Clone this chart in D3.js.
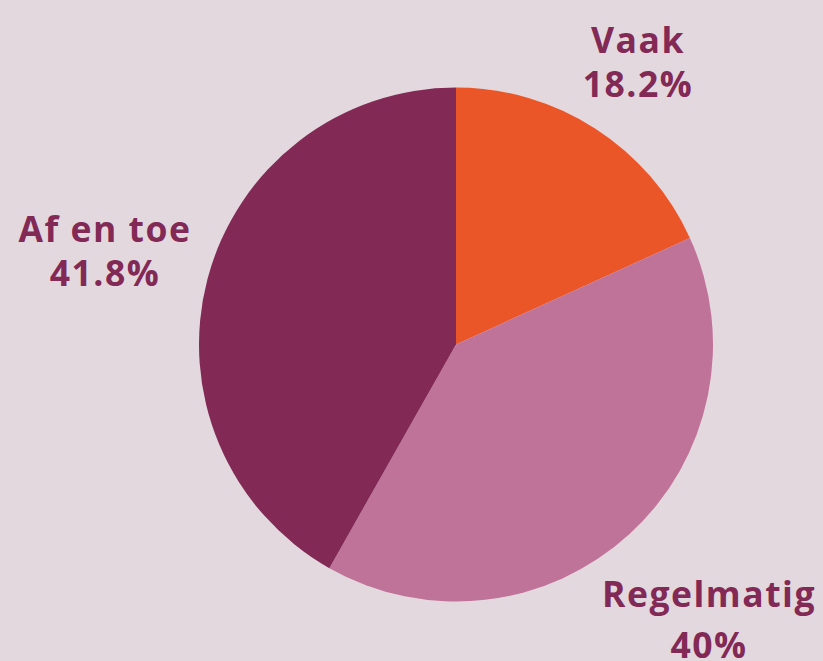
<!DOCTYPE html>
<html>
<head>
<meta charset="utf-8">
<script src="https://cdn.jsdelivr.net/npm/d3@7"></script>
<style>
  html, body { margin: 0; padding: 0; background: #e4d8df; }
  svg { display: block; }
</style>
</head>
<body>
<script>
// chart data
var categories = ["Vaak", "Regelmatig", "Af en toe"];
var values = [18.2, 40, 41.8];
var value_labels = ["18.2%", "40%", "41.8%"];
var slice_colors = ["#eb5628", "#c07399", "#822956"];

var width = 823, height = 661;
var cx = 456, cy = 344.5, radius = 257;
var text_color = "#822956";

var svg = d3.select("body").append("svg")
  .attr("width", width)
  .attr("height", height);

svg.append("rect")
  .attr("width", width).attr("height", height)
  .attr("fill", "#e4d8df");

var pie = d3.pie().sort(null).value(d => d);
var arc = d3.arc().innerRadius(0).outerRadius(radius);

var pie_g = svg.append("g").attr("transform", "translate(" + cx + "," + cy + ")");

pie_g.selectAll("path")
  .data(pie(values))
  .enter().append("path")
  .attr("d", arc)
  .attr("fill", (d, i) => slice_colors[i]);

// label positions: center x, baseline of name, baseline of percentage
var label_pos = [[638, 53, 97], [709, 607, 658], [105, 242, 286]];

function add_label(g, txt, x, y) {
  g.append("text")
    .text(txt)
    .attr("x", x)
    .attr("y", y)
    .attr("text-anchor", "middle")
    .style("font-family", "'Open Sans', sans-serif")
    .style("font-weight", "700")
    .style("font-size", "35.5px")
    .style("letter-spacing", "1.5px")
    .style("fill", text_color);
}

categories.forEach(function (cat, i) {
  var g = svg.append("g");
  add_label(g, cat, label_pos[i][0], label_pos[i][1]);
  add_label(g, value_labels[i], label_pos[i][0], label_pos[i][2]);
});
</script>
</body>
</html>
